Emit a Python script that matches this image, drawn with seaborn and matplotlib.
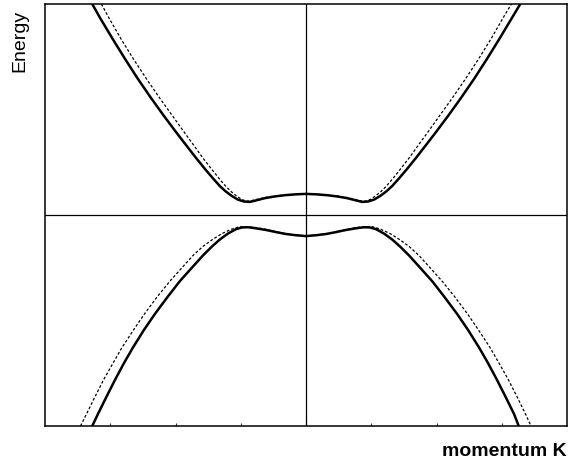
import matplotlib
matplotlib.use("Agg")
import matplotlib.pyplot as plt
import seaborn as sns
import pandas as pd

# Conduction band (upper) and valence band (lower), solid curves
k_cb = [-0.819, -0.789, -0.743, -0.693, -0.644, -0.594, -0.544, -0.498, -0.460, -0.421,
        -0.387, -0.356, -0.330, -0.307, -0.284, -0.261, -0.238, -0.215, -0.192, -0.157,
        -0.119, -0.080, -0.038, 0.000, 0.038, 0.080, 0.119, 0.157, 0.192, 0.215,
        0.238, 0.261, 0.284, 0.307, 0.330, 0.356, 0.387, 0.421, 0.460, 0.498,
        0.544, 0.594, 0.644, 0.693, 0.743, 0.789, 0.821]
e_cb = [1.000, 0.934, 0.839, 0.739, 0.645, 0.555, 0.469, 0.393, 0.332, 0.270,
        0.218, 0.173, 0.137, 0.111, 0.090, 0.073, 0.064, 0.062, 0.069, 0.080,
        0.088, 0.094, 0.098, 0.100, 0.098, 0.094, 0.088, 0.080, 0.069, 0.062,
        0.064, 0.073, 0.090, 0.111, 0.137, 0.173, 0.218, 0.270, 0.332, 0.393,
        0.469, 0.555, 0.645, 0.739, 0.839, 0.934, 1.000]

k_vb = [-0.819, -0.797, -0.766, -0.732, -0.697, -0.663, -0.621, -0.579, -0.529, -0.483,
        -0.433, -0.395, -0.360, -0.330, -0.299, -0.268, -0.245, -0.222, -0.192, -0.153,
        -0.115, -0.077, -0.038, 0.000, 0.038, 0.077, 0.115, 0.153, 0.192, 0.222,
        0.245, 0.268, 0.299, 0.330, 0.360, 0.395, 0.433, 0.483, 0.529, 0.579,
        0.621, 0.663, 0.697, 0.732, 0.766, 0.797, 0.815]
e_vb = [-1.000, -0.943, -0.865, -0.782, -0.701, -0.628, -0.545, -0.469, -0.386, -0.313,
        -0.244, -0.192, -0.149, -0.116, -0.088, -0.067, -0.059, -0.058, -0.063, -0.071,
        -0.081, -0.090, -0.096, -0.100, -0.096, -0.090, -0.081, -0.071, -0.063, -0.058,
        -0.059, -0.067, -0.088, -0.116, -0.149, -0.192, -0.244, -0.313, -0.386, -0.469,
        -0.545, -0.628, -0.701, -0.782, -0.865, -0.943, -1.000]

# Same bands with the extra quadratic term, dashed curves
k_cb_d = [-0.784, -0.755, -0.711, -0.661, -0.611, -0.561, -0.511, -0.467, -0.431, -0.395,
          -0.362, -0.333, -0.308, -0.287, -0.266, -0.247, -0.230, -0.215, -0.192, -0.157,
          -0.119, -0.080, -0.038, 0.000, 0.038, 0.080, 0.119, 0.157, 0.192, 0.215,
          0.230, 0.247, 0.266, 0.287, 0.308, 0.333, 0.362, 0.395, 0.431, 0.467,
          0.511, 0.561, 0.611, 0.661, 0.711, 0.755, 0.787]
e_cb_d = [1.000, 0.934, 0.839, 0.739, 0.645, 0.555, 0.469, 0.393, 0.332, 0.270,
          0.218, 0.173, 0.137, 0.111, 0.090, 0.074, 0.066, 0.066, 0.073, 0.083,
          0.090, 0.095, 0.099, 0.100, 0.099, 0.095, 0.090, 0.083, 0.073, 0.066,
          0.066, 0.074, 0.090, 0.111, 0.137, 0.173, 0.218, 0.270, 0.332, 0.393,
          0.469, 0.555, 0.645, 0.739, 0.839, 0.934, 1.000]

k_vb_d = [-0.864, -0.841, -0.810, -0.776, -0.739, -0.705, -0.661, -0.619, -0.569, -0.521,
          -0.471, -0.433, -0.395, -0.358, -0.322, -0.285, -0.257, -0.230, -0.195, -0.153,
          -0.115, -0.077, -0.038, 0.000, 0.038, 0.077, 0.115, 0.153, 0.195, 0.230,
          0.257, 0.285, 0.322, 0.358, 0.395, 0.433, 0.471, 0.521, 0.569, 0.619,
          0.661, 0.705, 0.739, 0.776, 0.810, 0.841, 0.862]
e_vb_d = [-1.000, -0.943, -0.865, -0.782, -0.701, -0.628, -0.545, -0.469, -0.386, -0.313,
          -0.244, -0.192, -0.149, -0.116, -0.088, -0.067, -0.056, -0.055, -0.059, -0.068,
          -0.079, -0.089, -0.095, -0.099, -0.095, -0.089, -0.079, -0.068, -0.059, -0.055,
          -0.056, -0.067, -0.088, -0.116, -0.149, -0.192, -0.244, -0.313, -0.386, -0.469,
          -0.545, -0.628, -0.701, -0.782, -0.865, -0.943, -1.000]

tick_k = [-0.75, -0.5, -0.25, 0.0, 0.25, 0.5, 0.75]

sns.set_theme(style="white")
plt.rcParams["font.family"] = ["Liberation Sans", "DejaVu Sans"]

fig = plt.figure(figsize=(5.69, 4.66), dpi=100)
ax = fig.add_axes([45 / 569, 40 / 466, 522 / 569, 422 / 466])

dashed = [(k_cb_d, e_cb_d), (k_vb_d, e_vb_d)]
solid = [(k_cb, e_cb), (k_vb, e_vb)]

for kk, ee in dashed:
    df = pd.DataFrame({"k": kk, "E": ee})
    sns.lineplot(data=df, x="k", y="E", ax=ax, color="black", lw=0.9,
                 estimator=None, sort=False)
    ax.lines[-1].set_dashes((2.2, 1.6))

for kk, ee in solid:
    df = pd.DataFrame({"k": kk, "E": ee})
    sns.lineplot(data=df, x="k", y="E", ax=ax, color="black", lw=1.8,
                 estimator=None, sort=False)
    ax.lines[-1].set_solid_joinstyle("round")

ax.axhline(0, color="black", lw=0.9, zorder=1)
ax.axvline(0, color="black", lw=0.9, zorder=1)

ax.set_xlim(-1, 1)
ax.set_ylim(-1, 1)
ax.set_xticks(tick_k)
ax.set_xticklabels([])
ax.set_yticks([])
ax.tick_params(axis="x", direction="in", length=2, width=0.8, color="#333333", bottom=True)
ax.set_xlabel("")
ax.set_ylabel("")
for s in ax.spines.values():
    s.set_color("black")
    s.set_linewidth(1.1)

fig.text(20 / 569, 1 - 41 / 466, "Energy", rotation=90, ha="center", va="center",
         fontsize=14, color="black")
fig.text(567 / 569, 1 - 452 / 466, "momentum K", ha="right", va="center",
         fontsize=14, fontweight="bold", color="black")

fig.savefig("out.png", dpi=100)
